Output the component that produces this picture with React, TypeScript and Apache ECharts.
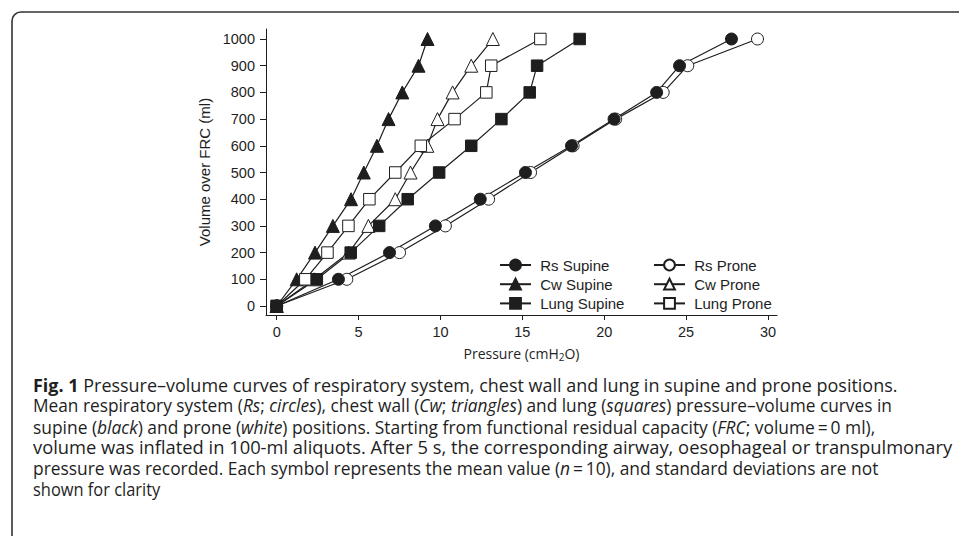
import React, { useEffect, useRef } from "react";
import * as echarts from "echarts";

const volumes = [0, 100, 200, 300, 400, 500, 600, 700, 800, 900, 1000];
const rsSupine = [0, 3.77, 6.89, 9.69, 12.43, 15.19, 18.0, 20.6, 23.2, 24.6, 27.77];
const rsProne = [0, 4.28, 7.5, 10.3, 12.94, 15.5, 18.1, 20.7, 23.6, 25.1, 29.36];
const cwSupine = [0, 1.22, 2.34, 3.43, 4.54, 5.32, 6.12, 6.83, 7.67, 8.66, 9.21];
const cwProne = [0, 2.3, 4.4, 5.6, 7.24, 8.17, 9.2, 9.82, 10.74, 11.88, 13.2];
const lungSupine = [0, 2.45, 4.52, 6.26, 8.0, 9.92, 11.88, 13.72, 15.45, 15.9, 18.5];
const lungProne = [0, 1.75, 3.1, 4.38, 5.66, 7.24, 8.8, 10.86, 12.8, 13.1, 16.1];

const xTicks = [0, 5, 10, 15, 20, 25, 30];
const yTicks = [0, 100, 200, 300, 400, 500, 600, 700, 800, 900, 1000];

const supineNames = ["Rs Supine", "Cw Supine", "Lung Supine"];
const proneNames = ["Rs Prone", "Cw Prone", "Lung Prone"];

const captionLines = [
  "{b|Fig. 1}{r| Pressure\u2013volume curves of respiratory system, chest wall and lung in supine and prone positions.}",
  "{r|Mean respiratory system (}{i|Rs}{r|; }{i|circles}{r|), chest wall (}{i|Cw}{r|; }{i|triangles}{r|) and lung (}{i|squares}{r|) pressure\u2013volume curves in}",
  "{r|supine (}{i|black}{r|) and prone (}{i|white}{r|) positions. Starting from functional residual capacity (}{i|FRC}{r|; volume\u2009=\u20090 ml),}",
  "{r|volume was inflated in 100-ml aliquots. After 5 s, the corresponding airway, oesophageal or transpulmonary}",
  "{r|pressure was recorded. Each symbol represents the mean value (}{i|n}{r|\u2009=\u200910), and standard deviations are not}",
  "{r|shown for clarity}",
];
const captionScaleX = [1.04, 1.0, 1.006, 1.06, 1.005, 0.95];

const INK = "#1e1e1e";
const capFont = "Open Sans";
const capSize = 17.3;
const sans = "'Liberation Sans', Arial, Helvetica, sans-serif";

export default function App() {
  const ref = useRef<HTMLDivElement>(null);
  useEffect(() => {
    if (!ref.current) return;
    const chart = echarts.init(ref.current, null, { renderer: "svg" });
    const mk = (
      name: string,
      xs: number[],
      symbol: string,
      filled: boolean,
      size: number
    ) => ({
      name,
      type: "line",
      data: volumes.map((v, i) => [xs[i], v]),
      symbol,
      symbolSize: size,
      showAllSymbol: true,
      lineStyle: { color: INK, width: 1.2 },
      itemStyle: {
        color: filled ? INK : "#ffffff",
        borderColor: INK,
        borderWidth: 1,
      },
      emphasis: { disabled: true },
    });
    const legendBase = {
      orient: "vertical",
      padding: 0,
      itemWidth: 31,
      itemHeight: 13.5,
      itemGap: 4.2,
      formatter: (name: string) => " " + name,
      textStyle: {
        fontFamily: sans,
        fontSize: 15,
        color: INK,
      },
      selectedMode: false,
    };
    const capRich = {
      r: { fontFamily: capFont, fontSize: capSize, color: INK, lineHeight: 19 },
      b: { fontFamily: capFont, fontSize: capSize, color: INK, fontWeight: "bold", lineHeight: 19 },
      i: { fontFamily: capFont, fontSize: capSize, color: INK, fontStyle: "italic", lineHeight: 19 },
    };
    chart.setOption({
      animation: false,
      grid: { left: 266, right: 182, top: 29, bottom: 221, containLabel: false },
      xAxis: {
        type: "value",
        min: -0.653,
        max: 30.55,
        name: "{a|Pressure (cmH}{s|2}{a|O)}",
        nameLocation: "middle",
        nameGap: 29,
        nameTextStyle: {
          rich: {
            a: { fontFamily: capFont, fontSize: 14, color: INK, lineHeight: 18 },
            s: {
              fontFamily: capFont,
              fontSize: 10,
              color: INK,
              lineHeight: 10,
              verticalAlign: "bottom",
            },
          },
        },
        axisLine: { onZero: false, lineStyle: { color: INK, width: 1 } },
        axisTick: {
          length: 5,
          lineStyle: { color: INK },
          customValues: xTicks,
        },
        axisLabel: {
          customValues: xTicks,
          margin: 9,
          fontFamily: sans,
          fontSize: 14.5,
          color: INK,
          formatter: (v: number) => String(v),
        },
        splitLine: { show: false },
      },
      yAxis: {
        type: "value",
        min: -33.7,
        max: 1037.5,
        name: "Volume over FRC (ml)",
        nameLocation: "middle",
        nameGap: 29,
        nameTextStyle: {
          fontFamily: sans,
          fontSize: 15,
          color: INK,
        },
        axisLine: { show: true, onZero: false, lineStyle: { color: INK, width: 1 } },
        axisTick: {
          show: true,
          length: 6,
          lineStyle: { color: INK },
          customValues: yTicks,
        },
        axisLabel: {
          customValues: yTicks,
          margin: 11,
          fontFamily: sans,
          fontSize: 14.5,
          color: INK,
          formatter: (v: number) => String(v),
        },
        splitLine: { show: false },
      },
      legend: [
        { ...legendBase, left: 499, top: 257.5, data: supineNames },
        { ...legendBase, left: 653, top: 257.5, data: proneNames },
      ],
      series: [
        mk("Rs Prone", rsProne, "circle", false, 12),
        mk("Rs Supine", rsSupine, "circle", true, 12),
        mk("Cw Prone", cwProne, "triangle", false, 13),
        mk("Cw Supine", cwSupine, "triangle", true, 13),
        mk("Lung Prone", lungProne, "rect", false, 11.5),
        mk("Lung Supine", lungSupine, "rect", true, 11.5),
      ],
      graphic: [
        {
          type: "rect",
          silent: true,
          shape: { x: 12, y: 12, width: 2000, height: 2000, r: 9 },
          style: { fill: "none", stroke: "#333333", lineWidth: 1.6 },
        },
        ...captionLines.map((t, i) => ({
          type: "text",
          silent: true,
          x: 33,
          y: 385 + i * 20.8,
          scaleX: captionScaleX[i],
          style: {
            text: t,
            rich: capRich,
            fontFamily: capFont,
            fontSize: capSize,
            verticalAlign: "middle",
            fill: INK,
          },
        })),
      ],
    });
    return () => chart.dispose();
  }, []);
  return (
    <div
      ref={ref}
      style={{ position: "absolute", left: 0, top: 0, width: 959, height: 536, background: "#fff" }}
    />
  );
}
